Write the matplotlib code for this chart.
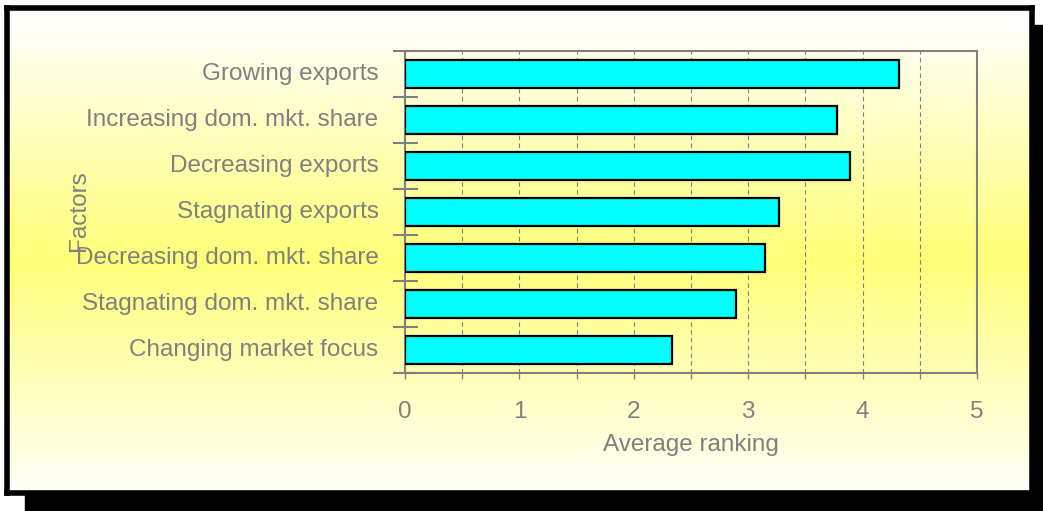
import matplotlib.pyplot as plt
import matplotlib.transforms as mtransforms
import numpy as np
from matplotlib.patches import Rectangle

# survey factors, bottom to top of the chart
factors = ["Changing market focus", "Stagnating dom. mkt. share",
           "Decreasing dom. mkt. share", "Stagnating exports",
           "Decreasing exports", "Increasing dom. mkt. share",
           "Growing exports"]
ranking = [2.33, 2.89, 3.15, 3.27, 3.89, 3.78, 4.32]

W, H = 1043, 511
plt.rcParams['font.family'] = ['Liberation Sans', 'DejaVu Sans']
fig = plt.figure(figsize=(W / 100, H / 100), dpi=100, facecolor="white")
grey = "#808080"
fs = 17.5

def box(x0, y0, x1, y1):
    # pixel box (top-left origin) -> figure fraction
    return [x0 / W, 1 - y1 / H, (x1 - x0) / W, (y1 - y0) / H]

# drop shadow
fig.patches.append(Rectangle((25 / W, 0), 1 - 25 / W, 1 - 25 / H,
                             transform=fig.transFigure, color="black", zorder=-10))

# frame with yellow gradient
bg = fig.add_axes(box(7, 8, 1032, 493))
t = np.linspace(0, 1, 256)
shade = np.clip(1 - np.abs(t - 0.52) / 0.5, 0, 1)
top = np.array([1.0, 1.0, 1.0])
mid = np.array([1.0, 1.0, 0.47])
cols = top[None, :] * (1 - shade[:, None]) + mid[None, :] * shade[:, None]
bg.imshow(cols[:, None, :], aspect="auto", extent=[0, 1, 0, 1], origin="upper")
bg.set_xticks([])
bg.set_yticks([])
for s in bg.spines.values():
    s.set_linewidth(4)
    s.set_color("black")

ax = fig.add_axes(box(405, 51, 977, 373))
ax.set_facecolor("none")
y = np.arange(len(factors))
ax.barh(y, ranking, height=0.6, color="#00FFFF", edgecolor="black",
        linewidth=1.6, zorder=3)

ax.set_xlim(0, 5)
ax.set_ylim(-0.5, len(factors) - 0.5)
ax.set_xticks(range(6))
ax.set_xticks(np.arange(0.5, 5, 1), minor=True)
ax.set_yticks(y)
ax.set_yticklabels(factors)
ax.set_yticks(np.arange(-0.5, len(factors)), minor=True)

ax.tick_params(axis="y", which="major", length=0, pad=19, labelsize=fs,
               labelcolor=grey)
ax.tick_params(axis="y", which="minor", direction="inout", length=18,
               width=1.5, color=grey)
ax.tick_params(axis="x", which="both", direction="out", length=4,
               width=1, color=grey, labelsize=fs, labelcolor=grey, pad=16)

# nudge category labels up a little
lift = mtransforms.ScaledTranslation(0, 3 / 100, fig.dpi_scale_trans)
for lbl in ax.get_yticklabels():
    lbl.set_transform(lbl.get_transform() + lift)

for v in np.arange(0.5, 5, 0.5):
    ax.axvline(v, color=grey, linestyle=(0, (4, 3)), linewidth=0.8, zorder=1)

for s in ax.spines.values():
    s.set_color(grey)
    s.set_linewidth(1.5)

ax.set_xlabel("Average ranking", color=grey, fontsize=fs, labelpad=8)
fig.text(79 / W, 1 - 211 / H, "Factors", rotation=90, color=grey,
         fontsize=fs, ha="center", va="center")

fig.savefig("out.png", dpi=100, facecolor="white")
